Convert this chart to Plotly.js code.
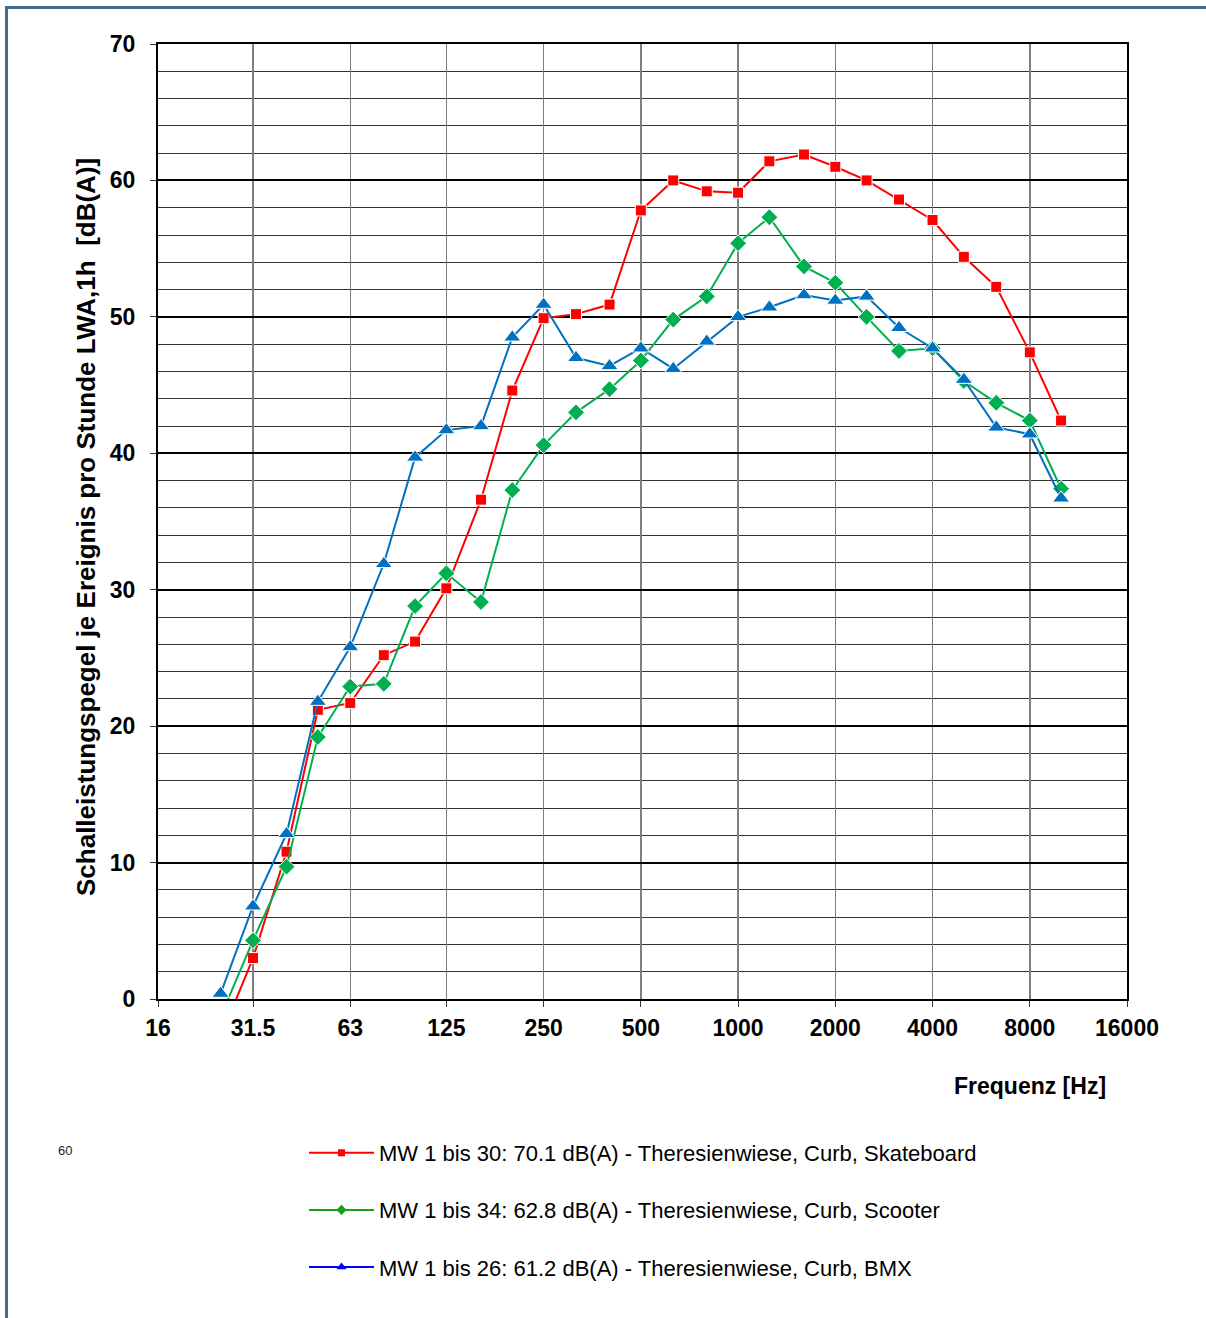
<!DOCTYPE html>
<html>
<head>
<meta charset="utf-8">
<script src="https://cdn.plot.ly/plotly-3.0.1.min.js"></script>
<style>
  html, body { margin: 0; padding: 0; background: #fff; }
  #chart { width: 1206px; height: 1318px; }
  .frameL { position: absolute; left: 5px; top: 6px; width: 3px; height: 1320px; background: #3F6E88; pointer-events: none; }
  .frameT { position: absolute; left: 5px; top: 6px; width: 1201px; height: 3px; background: #3F6E88; pointer-events: none; }
</style>
</head>
<body>
<div id="chart"></div>
<div class="frameL"></div>
<div class="frameT"></div>
<script>
// Third-octave band centre frequencies [Hz]
const freqs = [25, 31.5, 40, 50, 63, 80, 100, 125, 160, 200, 250, 315, 400, 500, 630, 800,
               1000, 1250, 1600, 2000, 2500, 3150, 4000, 5000, 6300, 8000, 10000];

// Series values [dB(A)]
const skateboard = [-2.8, 3.0, 10.8, 21.2, 21.7, 25.2, 26.2, 30.1, 36.6, 44.6, 49.9, 50.2, 50.9, 57.8, 60.0, 59.2,
                    59.1, 61.4, 61.9, 61.0, 60.0, 58.6, 57.1, 54.4, 52.2, 47.4, 42.4];
const scooter    = [-1.3, 4.3, 9.7, 19.2, 22.9, 23.1, 28.8, 31.2, 29.1, 37.3, 40.6, 43.0, 44.7, 46.8, 49.8, 51.5,
                    55.4, 57.3, 53.7, 52.5, 50.0, 47.5, 47.7, 45.3, 43.7, 42.4, 37.4];
const bmx        = [0.4, 6.8, 12.1, 21.8, 25.8, 31.9, 39.7, 41.7, 42.0, 48.5, 50.9, 47.0, 46.4, 47.7, 46.2, 48.2,
                    50.0, 50.7, 51.6, 51.2, 51.5, 49.2, 47.7, 45.4, 41.9, 41.4, 36.7];

const seriesNames = [
  "MW 1 bis 30: 70.1 dB(A) - Theresienwiese, Curb, Skateboard",
  "MW 1 bis 34: 62.8 dB(A) - Theresienwiese, Curb, Scooter",
  "MW 1 bis 26: 61.2 dB(A) - Theresienwiese, Curb, BMX"
];

// Axis ticks
const xTickVals = [16, 31.5, 63, 125, 250, 500, 1000, 2000, 4000, 8000, 16000];
const xTickText = ["16", "31.5", "63", "125", "250", "500", "1000", "2000", "4000", "8000", "16000"];

const FONT = "Arial, 'Liberation Sans', sans-serif";
const colors = ["#FF0000", "#00B050", "#0070C0"];
const legendColors = ["#FF0000", "#1AA01A", "#0000FF"];
const symbols = ["square", "diamond", "triangle-up"];
const sizes = [11, 13, 15];
const legendSizes = [7, 8, 9];
const ys = [skateboard, scooter, bmx];

const traces = [];
for (let i = 0; i < 3; i++) {
  traces.push({
    type: "scatter", mode: "lines+markers",
    x: freqs, y: ys[i],
    line: { color: colors[i], width: 2 },
    marker: { symbol: symbols[i], size: sizes[i], color: colors[i], line: { color: "#FFFFFF", width: 1 } },
    showlegend: false, hoverinfo: "x+y", name: seriesNames[i]
  });
}
// Legend entries
for (let i = 0; i < 3; i++) {
  traces.push({
    type: "scatter", mode: "lines+markers",
    x: [null], y: [null],
    line: { color: legendColors[i], width: 2 },
    marker: { symbol: symbols[i], size: legendSizes[i], color: legendColors[i] },
    name: seriesNames[i], legendgroup: "g" + i, showlegend: true
  });
}

const W = 1206, H = 1318, L = 158, R = 79, T = 44, B = 319;
const pw = W - L - R, ph = H - T - B;
const px = v => (v - L) / pw;
const py = v => (H - B - v) / ph;

const layout = {
  width: W, height: H,
  margin: { l: L, r: R, t: T, b: B, pad: 0 },
  paper_bgcolor: "#FFFFFF", plot_bgcolor: "#FFFFFF",
  font: { family: FONT, color: "#000" },
  xaxis: {
    type: "log",
    range: [Math.log10(16), Math.log10(16000)],
    tickmode: "array", tickvals: xTickVals, ticktext: xTickText,
    ticks: "outside", ticklen: 6, tickcolor: "#333", tickwidth: 1,
    tickfont: { family: FONT, size: 23, color: "#000", weight: "bold" },
    ticklabelstandoff: 1,
    showgrid: true, gridcolor: "#7F7F7F", gridwidth: 1.5,
    showline: true, linecolor: "#000", linewidth: 2, mirror: true,
    zeroline: false, fixedrange: true
  },
  yaxis: {
    range: [0, 70], dtick: 10, tick0: 0,
    ticks: "outside", ticklen: 6, tickcolor: "#333", tickwidth: 1,
    tickfont: { family: FONT, size: 23, color: "#000", weight: "bold" },
    ticklabelstandoff: 10,
    showgrid: true, gridcolor: "#000", gridwidth: 2,
    minor: { dtick: 2, showgrid: true, gridcolor: "#333", gridwidth: 1, ticks: "" },
    showline: true, linecolor: "#000", linewidth: 2, mirror: true,
    zeroline: false, fixedrange: true
  },
  showlegend: true,
  legend: {
    x: px(304), xanchor: "left",
    y: py(1132), yanchor: "top",
    font: { family: FONT, size: 22, color: "#000" },
    itemwidth: 65, tracegroupgap: 25.5, traceorder: "grouped",
    bgcolor: "rgba(0,0,0,0)", borderwidth: 0
  },
  annotations: [
    {
      text: "Schalleistungspegel je Ereignis pro Stunde LWA,1h \u00a0[dB(A)]",
      xref: "paper", yref: "paper", x: px(86), y: py(527),
      xanchor: "center", yanchor: "middle", textangle: -90, showarrow: false,
      font: { family: FONT, size: 26, color: "#000", weight: "bold" }
    },
    {
      text: "Frequenz [Hz]",
      xref: "paper", yref: "paper", x: px(1108), y: py(1086),
      xanchor: "right", yanchor: "middle", showarrow: false,
      font: { family: FONT, size: 23, color: "#000", weight: "bold" }
    },
    {
      text: "60",
      xref: "paper", yref: "paper", x: px(65), y: py(1150),
      xanchor: "center", yanchor: "middle", showarrow: false,
      font: { family: FONT, size: 13, color: "#222" }
    }
  ]
};

Plotly.newPlot("chart", traces, layout, { displayModeBar: false, staticPlot: true });
</script>
</body>
</html>
